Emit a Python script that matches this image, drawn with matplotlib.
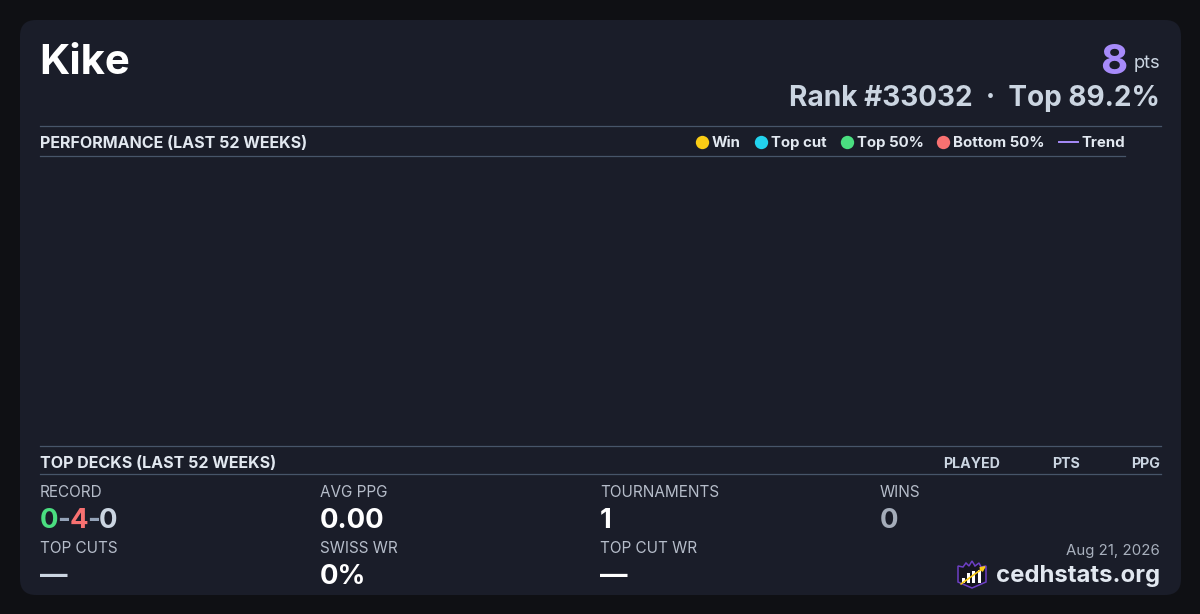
import matplotlib
matplotlib.use("Agg")
import matplotlib.pyplot as plt
from matplotlib.patches import FancyBboxPatch, Polygon, Rectangle

plt.rcParams['font.family'] = ['Inter', 'DejaVu Sans']

# Card content
player = "Kike"
points = "8"
rank_line = "Rank #33032  ·  Top 89.2%"
legend_labels = ["Win", "Top cut", "Top 50%", "Bottom 50%"]
legend_colors = ["#facc15", "#22d3ee", "#4ade80", "#f87171"]
legend_x = [702, 761, 847, 943]
deck_columns = ["PLAYED", "PTS", "PPG"]
deck_column_x = [1000, 1080, 1160]
stat_labels = ["RECORD", "AVG PPG", "TOURNAMENTS", "WINS", "TOP CUTS", "SWISS WR", "TOP CUT WR"]
stat_values = [None, "0.00", "1", "0", "—", "0%", "—"]
stat_colors = [None, "white", "white", "#a5adba", "#cbd5e1", "white", "white"]
stat_x = [40, 320, 600, 880, 40, 320, 600]
stat_y = [491, 491, 491, 491, 547, 547, 547]
record_parts = ["0", "-", "4", "-", "0"]
record_colors = ["#4ade80", "#94a3b8", "#f87171", "#94a3b8", "#cbd5e1"]
logo_bars = [(963.5, 5), (968.5, 10), (973.5, 12), (979.5, 13)]

BG = "#0f1014"
CARD = "#1a1d29"
RULE = "#475569"
px = 1 / 100

fig = plt.figure(figsize=(1200 * px, 614 * px), dpi=100, facecolor=BG)
ax = fig.add_axes([0, 0, 1, 1])
ax.set_xlim(0, 1200)
ax.set_ylim(614, 0)
ax.axis("off")


def fs(pixels):
    # css pixels to points at this dpi
    return pixels * 0.72


ax.add_patch(FancyBboxPatch((36, 36), 1129, 543, boxstyle="round,pad=16,rounding_size=16",
                            mutation_aspect=1, fc=CARD, ec="none"))

# header
ax.text(39.5, 59, player, color="white", fontsize=fs(42), fontweight="bold", va="center_baseline")
ax.text(1160, 61.5, "pts", color="#cbd5e1", fontsize=fs(18.3), ha="right", va="center_baseline")
ax.text(1127, 58.5, points, color="#a78bfa", fontsize=fs(42), fontweight="bold", ha="right", va="center_baseline")
ax.text(1160, 95.5, rank_line, color="#cbd5e1", fontsize=fs(28), fontweight="bold", ha="right", va="center_baseline")

# section rules
ax.plot([40, 1160.5], [126, 126], color=RULE, lw=0.9)
ax.plot([40, 1124.5], [156, 156], color=RULE, lw=0.9)
ax.plot([40, 1160.5], [446, 446], color=RULE, lw=0.9)
ax.plot([40, 1160.5], [474, 474], color=RULE, lw=0.9)

ax.text(40, 142, "PERFORMANCE (LAST 52 WEEKS)", color="#e2e8f0", fontsize=fs(16.05), fontweight="bold", va="center_baseline")
ax.text(40, 462, "TOP DECKS (LAST 52 WEEKS)", color="#e2e8f0", fontsize=fs(16.05), fontweight="bold", va="center_baseline")

# legend
for label, color, x in zip(legend_labels, legend_colors, legend_x):
    ax.plot(x, 141.5, "o", ms=9.6, color=color, mec="none")
    ax.text(x + 10, 141.5, label, color="#e2e8f0", fontsize=fs(15), fontweight="bold", va="center_baseline")
ax.plot([1059, 1078], [141.5, 141.5], color="#a78bfa", lw=1.4)
ax.text(1081, 141.5, "Trend", color="#e2e8f0", fontsize=fs(15), fontweight="bold", va="center_baseline")

for label, x in zip(deck_columns, deck_column_x):
    ax.text(x, 462, label, color="#cbd5e1", fontsize=fs(14.2), fontweight="bold", ha="right", va="center_baseline")

# stats grid
for label, value, color, x, y in zip(stat_labels, stat_values, stat_colors, stat_x, stat_y):
    ax.text(x, y, label, color="#b6bdca", fontsize=fs(15.3), va="center_baseline")
    if value:
        ax.text(x, y + 27, value, color=color, fontsize=fs(27.5), fontweight="bold", va="center_baseline")

# record is several colours in one line
r = fig.canvas.get_renderer()
cursor = 40
for part, color in zip(record_parts, record_colors):
    t = ax.text(cursor, 518, part, color=color, fontsize=fs(27.5), fontweight="bold", va="center_baseline")
    cursor += t.get_window_extent(r).width - 1

# footer
ax.text(1160, 549.5, "Aug 21, 2026", color="#a8b0bd", fontsize=fs(15), ha="right", va="center_baseline")
ax.text(1160, 573.5, "cedhstats.org", color="#e2e8f0", fontsize=fs(23.9), fontweight="bold", ha="right", va="center_baseline")

# logo
ax.add_patch(Polygon([(958, 566), (963, 567), (966, 563), (969, 566), (972, 561), (975, 566),
                      (979, 563), (981, 567), (986, 566), (986, 582), (972, 588), (958, 582)],
                     closed=True, fc="#14151f", ec="#6d3fc4", lw=1.1))
for x, h in logo_bars:
    ax.add_patch(Rectangle((x - 1.7, 583 - h), 3.4, h, fc="white", ec="none"))
ax.annotate("", xy=(986, 566), xytext=(961, 584),
            arrowprops=dict(arrowstyle="-|>", color="#facc15", lw=1.2, mutation_scale=7, shrinkA=0, shrinkB=0))

fig.savefig("out.png", dpi=100, facecolor=BG)
